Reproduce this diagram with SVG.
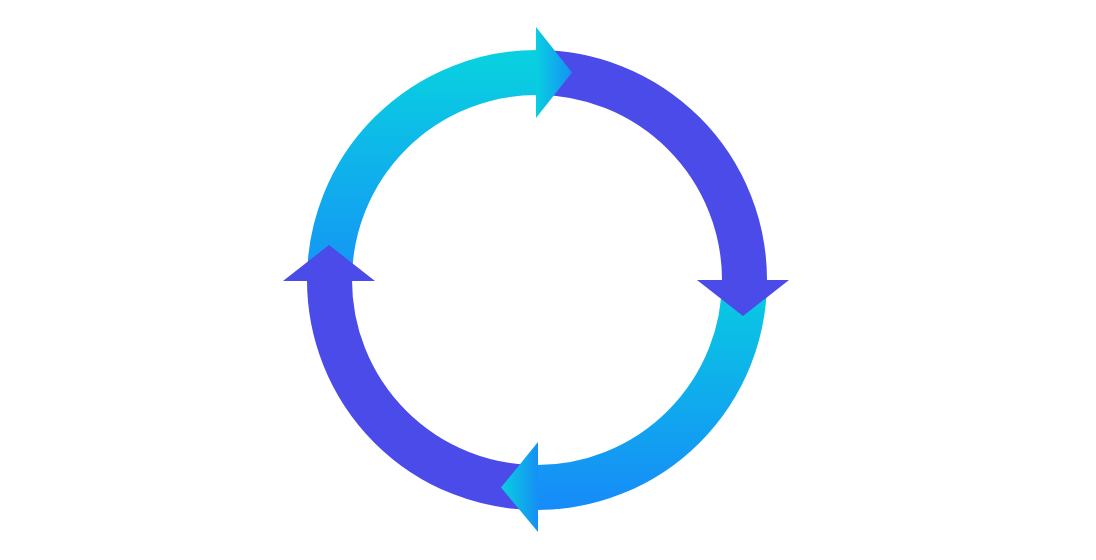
<svg xmlns="http://www.w3.org/2000/svg" width="1096" height="560" viewBox="0 0 1096 560">
  <defs>
    <linearGradient id="gTL" gradientUnits="userSpaceOnUse" x1="0" y1="60" x2="0" y2="280">
      <stop offset="0" stop-color="#09D0E0"/>
      <stop offset="1" stop-color="#1593F6"/>
    </linearGradient>
    <linearGradient id="gBR" gradientUnits="userSpaceOnUse" x1="0" y1="290" x2="0" y2="505">
      <stop offset="0" stop-color="#09CAE2"/>
      <stop offset="1" stop-color="#168CF8"/>
    </linearGradient>
    <linearGradient id="gH" x1="0" y1="0" x2="1" y2="0">
      <stop offset="0" stop-color="#09CFE0"/>
      <stop offset="1" stop-color="#1590F4"/>
    </linearGradient>
    <style>
      .arc { fill: none; stroke-width: 45; stroke-linecap: butt; }
      .purple { stroke: #4A4BE8; }
      .head { fill: #4A4BE8; }
    </style>
  </defs>
  <rect width="1096" height="560" fill="#FFFFFF"/>
  <g id="connectors">
    <path class="arc purple" d="M 537 72.5 A 207.5 207.5 0 0 1 744.5 280"/>
    <path class="arc purple" d="M 537 487.5 A 207.5 207.5 0 0 1 329.5 280"/>
    <path class="arc" stroke="url(#gTL)" d="M 329.5 280 A 207.5 207.5 0 0 1 537 72.5"/>
    <path class="arc" stroke="url(#gBR)" d="M 744.5 280 A 207.5 207.5 0 0 1 537 487.5"/>
  </g>
  <g id="arrow-top">
    <polygon points="536,27 572,72.5 536,118" fill="url(#gH)"/>
  </g>
  <g id="arrow-right">
    <polygon class="head" points="697,280 789,280 743,316"/>
  </g>
  <g id="arrow-bottom">
    <polygon points="538,442 501,487.5 538,532" fill="url(#gH)"/>
  </g>
  <g id="arrow-left">
    <polygon class="head" points="283,281 375,281 329,245"/>
  </g>
</svg>
